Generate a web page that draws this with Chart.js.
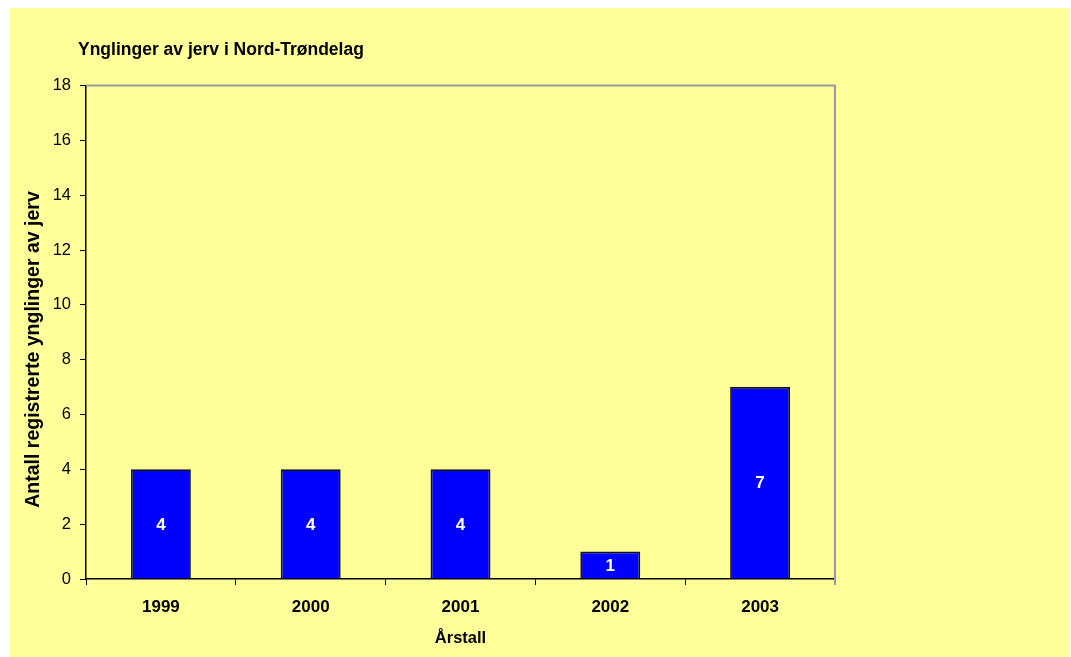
<!DOCTYPE html>
<html>
<head>
<meta charset="utf-8">
<script src="https://cdn.jsdelivr.net/npm/chart.js@4"></script>
<style>
  html, body { margin: 0; padding: 0; background: #ffffff; width: 1071px; height: 657px; overflow: hidden; }
  #wrap { position: absolute; left: 10px; top: 8px; width: 1060px; height: 649px; background: #FFFF99; }
  canvas { display: block; }
</style>
</head>
<body>
<div id="wrap"><canvas id="c" width="1060" height="649"></canvas></div>
<script>
const categories = ['1999', '2000', '2001', '2002', '2003'];
const values = [4, 4, 4, 1, 7];
const yMin = 0;
const yMax = 18;
const yStep = 2;
const chartTitle = 'Ynglinger av jerv i Nord-Trøndelag';
const xTitle = 'Årstall';
const yTitle = 'Antall registrerte ynglinger av jerv';

const FONT = '"Liberation Sans", Arial, sans-serif';

const framePlugin = {
  id: 'frame',
  beforeDatasetsDraw(chart) {
    const { ctx, chartArea: a } = chart;
    ctx.save();
    ctx.strokeStyle = '#9a9a9a';
    ctx.lineWidth = 2;
    ctx.beginPath();
    ctx.moveTo(a.left, a.top);
    ctx.lineTo(a.right, a.top);
    ctx.lineTo(a.right, a.bottom + 6);
    ctx.stroke();
    ctx.restore();
  }
};

const labelsPlugin = {
  id: 'barLabels',
  afterDatasetsDraw(chart) {
    const { ctx } = chart;
    const meta = chart.getDatasetMeta(0);
    ctx.save();
    ctx.fillStyle = '#ffffff';
    ctx.font = 'bold 17px ' + FONT;
    ctx.textAlign = 'center';
    ctx.textBaseline = 'middle';
    meta.data.forEach((bar, i) => {
      const p = bar.getProps(['x', 'y', 'base'], true);
      ctx.fillText(String(chart.data.datasets[0].data[i]), p.x, (p.y + p.base) / 2 + 1);
    });
    ctx.restore();
  }
};

const textPlugin = {
  id: 'texts',
  afterDraw(chart) {
    const { ctx } = chart;
    ctx.save();
    ctx.fillStyle = '#000000';
    ctx.font = 'bold 17.5px ' + FONT;
    ctx.textAlign = 'left';
    ctx.textBaseline = 'alphabetic';
    ctx.fillText(chartTitle, 68, 47);
    ctx.font = 'bold 16.5px ' + FONT;
    ctx.textAlign = 'center';
    ctx.fillText(xTitle, 450.5, 635);
    ctx.translate(29, 341.5);
    ctx.rotate(-Math.PI / 2);
    ctx.font = 'bold 19.5px ' + FONT;
    ctx.textAlign = 'center';
    ctx.textBaseline = 'alphabetic';
    ctx.fillText(yTitle, 0, 0);
    ctx.restore();
  }
};

new Chart(document.getElementById('c'), {
  type: 'bar',
  data: {
    labels: categories,
    datasets: [{
      data: values,
      backgroundColor: '#0000FF',
      borderColor: '#111111',
      borderWidth: 1.75,
      borderSkipped: 'bottom',
      categoryPercentage: 1.0,
      barPercentage: 0.4
    }]
  },
  options: {
    responsive: false,
    animation: false,
    devicePixelRatio: 1,
    layout: { padding: { top: 77.5, right: 235, bottom: 0, left: 0 } },
    plugins: {
      legend: { display: false },
      title: { display: false },
      tooltip: { enabled: false }
    },
    scales: {
      x: {
        grid: {
          display: true,
          drawOnChartArea: false,
          drawTicks: true,
          tickLength: 6,
          offset: true,
          color: (c) => (c.index === categories.length ? '#9a9a9a' : '#000000'),
          lineWidth: 1
        },
        border: { display: true, color: '#000000', width: 1.5 },
        ticks: {
          color: '#000000',
          font: { family: FONT, size: 17, weight: 'bold' },
          padding: 12,
          maxRotation: 0
        },
        afterFit(scale) { scale.height = 78; }
      },
      y: {
        min: yMin,
        max: yMax,
        grid: {
          display: true,
          drawOnChartArea: false,
          drawTicks: true,
          tickLength: 6,
          color: '#000000',
          lineWidth: 1
        },
        border: { display: true, color: '#000000', width: 1.5 },
        ticks: {
          stepSize: yStep,
          color: '#000000',
          font: { family: FONT, size: 16.5 },
          padding: 9
        },
        afterFit(scale) { scale.width = 76; }
      }
    }
  },
  plugins: [framePlugin, labelsPlugin, textPlugin]
});
</script>
</body>
</html>
